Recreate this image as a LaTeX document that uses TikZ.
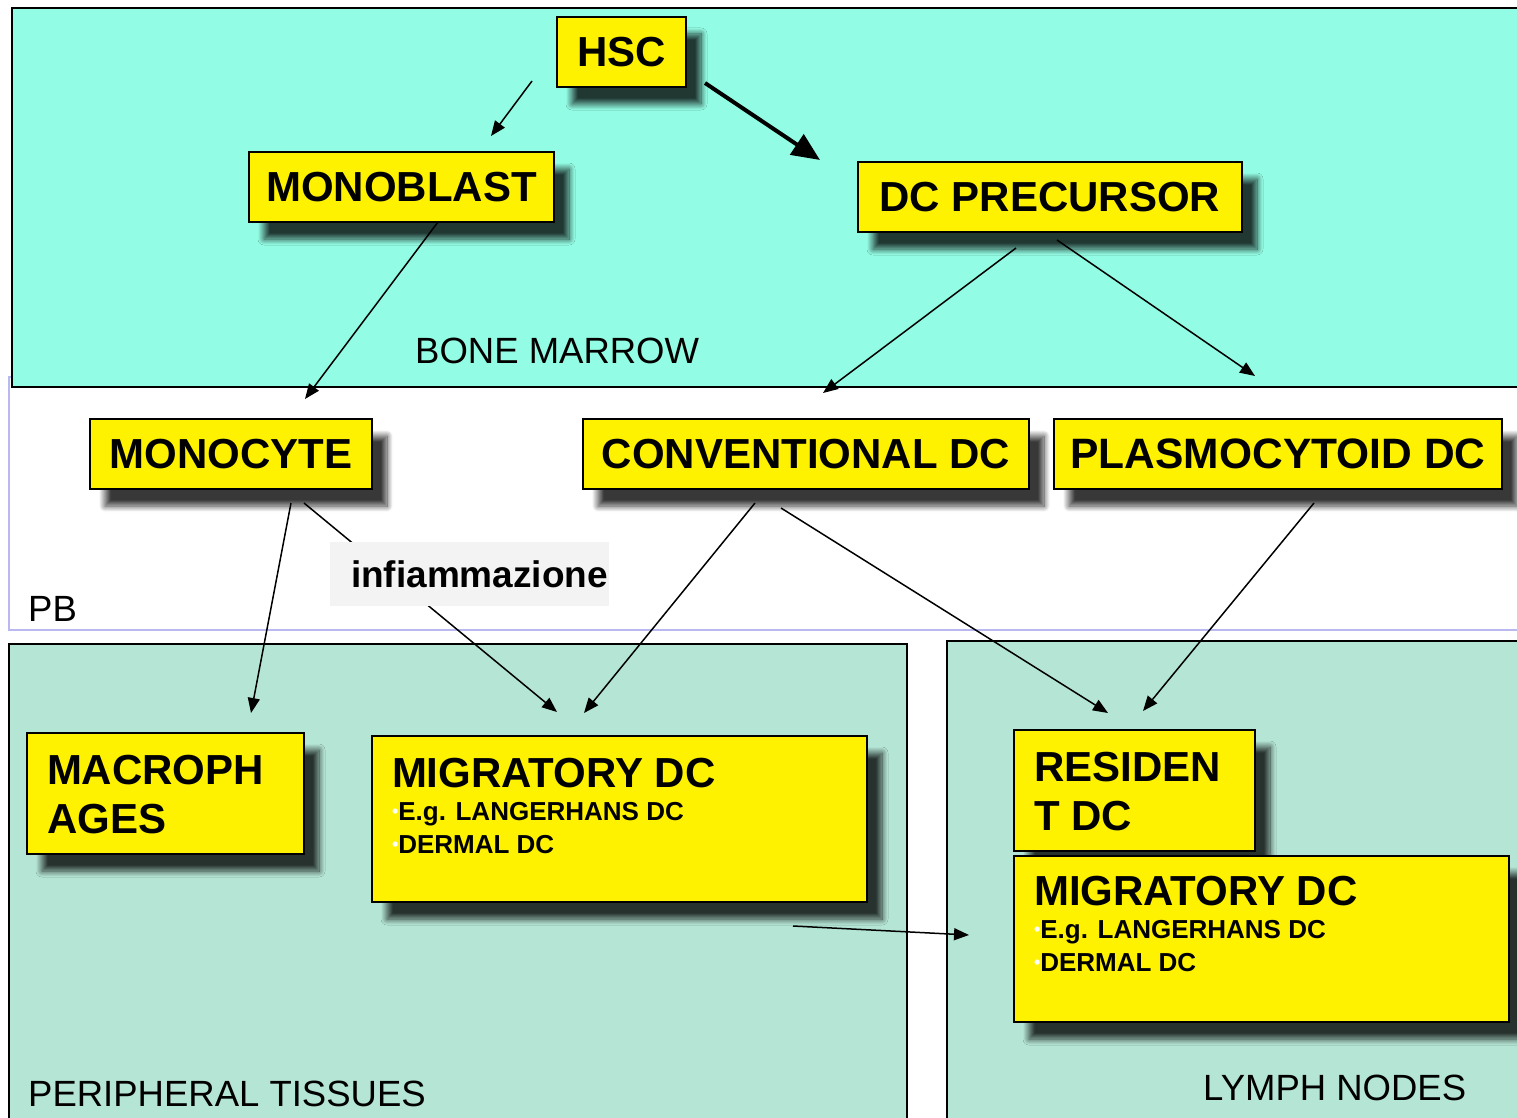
\documentclass[tikz,border=0pt]{standalone}
\usepackage{fontspec}
\setmainfont{Liberation Sans}
\usetikzlibrary{arrows.meta,shadows,shadows.blur}
\definecolor{marrow}{RGB}{147,252,228}
\definecolor{tissue}{RGB}{181,229,213}
\definecolor{pbline}{RGB}{185,185,240}
\definecolor{labelgrey}{RGB}{243,243,243}
\newcommand{\wdot}{{\color{white}\fontsize{18}{18}\selectfont\raisebox{3pt}{•}}}
\begin{document}
\begin{tikzpicture}[x=1pt,y=-1pt,
  region/.style={draw=black, line width=2.5pt},
  cellbox/.style={draw=black, line width=2pt, fill=yellow,
    blur shadow={shadow xshift=15pt, shadow yshift=-17pt, shadow blur radius=6pt,
      shadow blur steps=12, shadow opacity=78},
    font=\fontsize{42}{49}\selectfont\bfseries, inner sep=0pt},
  multibox/.style={cellbox, anchor=north west, inner xsep=20pt, inner ysep=22pt},
  conn/.style={line width=1.5pt, -{Triangle[length=15pt,width=12pt]}},
  bigconn/.style={line width=4pt, -{Triangle[length=28pt,width=24pt]}},
  regionlabel/.style={font=\fontsize{36.5}{40}\selectfont, anchor=base west, inner sep=0pt}]

\useasboundingbox (0,0) rectangle (1517,1118);
\clip (0,0) rectangle (1517,1118);

% regions
\draw[draw=pbline, line width=1.5pt] (9,377) rectangle (1540,630);
\draw[region, fill=marrow] (12,8) rectangle (1540,387);
\draw[region, fill=tissue] (9,644) rectangle (907,1140);
\draw[region, fill=tissue] (947,641) rectangle (1540,1140);

\node[regionlabel] (bm) at (415,363) {BONE MARROW};
\node[regionlabel] (pb) at (28,621) {PB};
\node[regionlabel] (pt) at (28,1106) {PERIPHERAL TISSUES};
\node[regionlabel] (ln) at (1203,1100) {LYMPH NODES};

% cell boxes
\node[cellbox, minimum width=129pt, minimum height=70pt] (hsc) at (621.5,52) {HSC};
\node[cellbox, minimum width=305pt, minimum height=70pt] (monoblast) at (401.5,187) {MONOBLAST};
\node[cellbox, minimum width=384pt, minimum height=70pt] (dcp) at (1050,197) {DC PRECURSOR};
\node[cellbox, minimum width=282pt, minimum height=70pt] (monocyte) at (231,454) {MONOCYTE};
\node[cellbox, minimum width=446pt, minimum height=70pt] (cdc) at (806,454) {CONVENTIONAL DC};
\node[cellbox, minimum width=448pt, minimum height=70pt, font=\fontsize{42.5}{49}\selectfont\bfseries] (pdc) at (1278,454) {PLASMOCYTOID DC};

\node[multibox] (macro) at (26,732)
  {\parbox[t][77pt][t]{237pt}{\raggedright MACROPH\\AGES}};
\node[multibox] (migl) at (371,735)
  {\parbox[t][122pt][t]{455pt}{\raggedright MIGRATORY DC\\
   \fontsize{26}{33}\selectfont\wdot E.g. LANGERHANS DC\\
   \wdot DERMAL DC}};
\node[multibox] (res) at (1013,729)
  {\parbox[t][77pt][t]{201pt}{\raggedright RESIDEN\\T DC}};
\node[multibox, inner ysep=20pt] (migr) at (1013,855)
  {\parbox[t][126pt][t]{455pt}{\raggedright MIGRATORY DC\\
   \fontsize{26}{33}\selectfont\wdot E.g. LANGERHANS DC\\
   \wdot DERMAL DC}};

% connector end points
\coordinate (hscA) at (532,81);   \coordinate (monoblastIn) at (491,136);
\coordinate (hscB) at (705,83);   \coordinate (dcpIn) at (820,160);
\coordinate (monoblastOut) at (438,222); \coordinate (monocyteIn) at (305,399);
\coordinate (dcpA) at (1016,248); \coordinate (cdcIn) at (823,393);
\coordinate (dcpB) at (1057,240); \coordinate (pdcIn) at (1255,376);
\coordinate (monocyteA) at (291,503); \coordinate (macroIn) at (251,713);
\coordinate (monocyteB) at (304,503); \coordinate (miglInA) at (557,712);
\coordinate (cdcA) at (755,503);  \coordinate (miglInB) at (584,713);
\coordinate (cdcB) at (781,508);  \coordinate (resInA) at (1108,713);
\coordinate (pdcA) at (1314,503); \coordinate (resInB) at (1143,711);
\coordinate (miglOut) at (793,926); \coordinate (migrIn) at (969,935);

\draw[conn] (hscA) -- (monoblastIn);
\draw[bigconn] (hscB) -- (dcpIn);
\draw[conn] (monoblastOut) -- (monocyteIn);
\draw[conn] (dcpA) -- (cdcIn);
\draw[conn] (dcpB) -- (pdcIn);
\draw[conn] (monocyteA) -- (macroIn);
\draw[conn] (monocyteB) -- (miglInA);
\draw[conn] (cdcA) -- (miglInB);
\draw[conn] (cdcB) -- (resInA);
\draw[conn] (pdcA) -- (resInB);
\draw[conn] (miglOut) -- (migrIn);

\node[fill=labelgrey, inner sep=0pt, minimum width=279pt, minimum height=64pt,
  font=\fontsize{37}{40}\selectfont\bfseries] (infl) at (469.5,574) {\hspace*{20pt}infiammazione};
\end{tikzpicture}
\end{document}
